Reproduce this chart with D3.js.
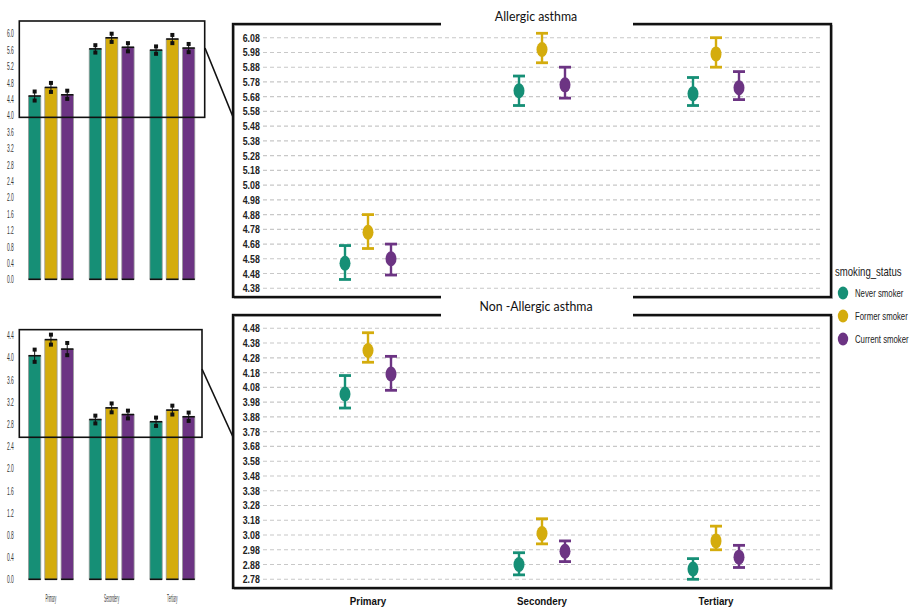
<!DOCTYPE html>
<html lang="en">
<head>
<meta charset="UTF-8">
<title>Asthma by education and smoking status</title>
<script src="https://d3js.org/d3.v7.min.js"></script>
<style>
  body { margin: 0; background: #fff; }
  svg { display: block; }
</style>
</head>
<body>
<script>
const width = 912, height = 611;

const levels = ['Primary', 'Secondery', 'Tertiary'];
const groups = ['Never smoker', 'Former smoker', 'Current smoker'];
const colors = ['#168f76', '#d4ac0d', '#6c3483'];

// overview bars (left), one row per education level, one column per smoking group
const allergicBars = [[4.47, 4.68, 4.50], [5.62, 5.89, 5.66], [5.59, 5.86, 5.64]];
const allergicBarErr = [[0.11, 0.11, 0.10], [0.09, 0.10, 0.10], [0.09, 0.10, 0.10]];
const nonAllergicBars = [[4.03, 4.32, 4.15], [2.88, 3.09, 2.97], [2.84, 3.05, 2.93]];
const nonAllergicBarErr = [[0.11, 0.09, 0.11], [0.07, 0.08, 0.07], [0.075, 0.08, 0.075]];

// zoomed panels (right): mean, lower, upper
const allergicMean = [[4.55, 4.76, 4.58], [5.72, 6.00, 5.76], [5.70, 5.97, 5.74]];
const allergicLow = [[4.44, 4.65, 4.47], [5.62, 5.91, 5.67], [5.62, 5.88, 5.66]];
const allergicHigh = [[4.67, 4.88, 4.68], [5.82, 6.11, 5.88], [5.81, 6.08, 5.85]];
const nonAllergicMean = [[4.035, 4.33, 4.17], [2.88, 3.09, 2.97], [2.85, 3.04, 2.93]];
const nonAllergicLow = [[3.94, 4.25, 4.06], [2.81, 3.02, 2.90], [2.78, 2.98, 2.86]];
const nonAllergicHigh = [[4.16, 4.45, 4.29], [2.96, 3.19, 3.04], [2.92, 3.14, 3.01]];

// tick labels
const allergicTicks = [4.38, 4.48, 4.58, 4.68, 4.78, 4.88, 4.98, 5.08, 5.18, 5.28, 5.38, 5.48, 5.58, 5.68, 5.78, 5.88, 5.98, 6.08];
const nonAllergicTicks = [2.78, 2.88, 2.98, 3.08, 3.18, 3.28, 3.38, 3.48, 3.58, 3.68, 3.78, 3.88, 3.98, 4.08, 4.18, 4.28, 4.38, 4.48];
const allergicBarTicks = [0.0, 0.4, 0.8, 1.2, 1.6, 2.0, 2.4, 2.8, 3.2, 3.6, 4.0, 4.4, 4.8, 5.2, 5.6, 6.0];
const nonAllergicBarTicks = [0.0, 0.4, 0.8, 1.2, 1.6, 2.0, 2.4, 2.8, 3.2, 3.6, 4.0, 4.4];

const FONT = "'Liberation Sans', Arial, sans-serif";

const svg = d3.select('body').append('svg')
  .attr('width', width)
  .attr('height', height)
  .style('font-family', FONT);

// ---------- left overview bar charts ----------
const xL = d3.scaleBand().domain(levels).range([20.6, 202.7]);
const xInner = d3.scaleBand().domain(groups).range([-22.45, 22.45]).paddingInner(0.245);

function barChart(vals, errs, ticks, y, box, showX) {
  const g = svg.append('g');
  const rows = [];
  levels.forEach((l, i) => groups.forEach((s, j) => {
    rows.push({ l, s, j, v: vals[i][j], e: errs[i][j] });
  }));
  const bx = d => xL(d.l) + xL.bandwidth() / 2 + xInner(d.s);
  const bw = xInner.bandwidth();

  g.selectAll('rect.bar').data(rows).join('rect')
    .attr('class', 'bar')
    .attr('x', bx)
    .attr('y', d => y(d.v))
    .attr('width', bw)
    .attr('height', d => y(0) - y(d.v))
    .attr('fill', d => colors[d.j])
    .attr('stroke', '#9a9a9a')
    .attr('stroke-width', 0.8);

  g.selectAll('line.top').data(rows).join('line')
    .attr('x1', bx).attr('x2', d => bx(d) + bw)
    .attr('y1', d => y(d.v)).attr('y2', d => y(d.v))
    .attr('stroke', '#111').attr('stroke-width', 1.6);
  g.selectAll('line.base').data(rows).join('line')
    .attr('x1', bx).attr('x2', d => bx(d) + bw)
    .attr('y1', y(0)).attr('y2', y(0))
    .attr('stroke', '#111').attr('stroke-width', 1.6);

  // error whiskers with square ends
  g.selectAll('line.err').data(rows).join('line')
    .attr('x1', d => bx(d) + bw / 2).attr('x2', d => bx(d) + bw / 2)
    .attr('y1', d => y(d.v + d.e)).attr('y2', d => y(d.v - d.e))
    .attr('stroke', '#111').attr('stroke-width', 1);
  g.selectAll('rect.sqHi').data(rows).join('rect')
    .attr('x', d => bx(d) + bw / 2 - 2).attr('y', d => y(d.v + d.e) - 2)
    .attr('width', 4).attr('height', 4).attr('fill', '#111');
  g.selectAll('rect.sqLo').data(rows).join('rect')
    .attr('x', d => bx(d) + bw / 2 - 2).attr('y', d => y(d.v - d.e) - 2)
    .attr('width', 4).attr('height', 4).attr('fill', '#111');

  const yAxis = g.append('g')
    .attr('transform', 'translate(17,0)')
    .call(d3.axisLeft(y).tickValues(ticks).tickSize(0).tickPadding(7).tickFormat(d3.format('.1f')));
  yAxis.select('.domain').remove();
  yAxis.selectAll('text')
    .attr('transform', 'scale(0.45,1)')
    .attr('font-size', 11)
    .attr('font-family', FONT)
    .attr('fill', '#333');

  if (showX) {
    const xAxis = g.append('g')
      .attr('transform', `translate(0,${y(0) + 12})`)
      .call(d3.axisBottom(xL).tickSize(0).tickPadding(4));
    xAxis.select('.domain').remove();
    xAxis.selectAll('text')
      .attr('transform', 'scale(0.32,1)')
      .attr('font-size', 10)
      .attr('font-family', FONT)
      .attr('fill', '#333');
  }

  // zoom box
  g.append('rect')
    .attr('x', 19.3).attr('y', y(box[1]))
    .attr('width', box[2] - 19.3).attr('height', y(box[0]) - y(box[1]))
    .attr('fill', 'none').attr('stroke', '#111').attr('stroke-width', 1.6);
  return g;
}

const yBarA = d3.scaleLinear().domain([0, 6]).range([279.3, 33.3]);
const yBarN = d3.scaleLinear().domain([0, 4.4]).range([579.3, 335.2]);
barChart(allergicBars, allergicBarErr, allergicBarTicks, yBarA, [3.95, 6.3, 204.7], false);
barChart(nonAllergicBars, nonAllergicBarErr, nonAllergicBarTicks, yBarN, [2.56, 4.5, 202], true);

// connector lines from zoom boxes to panels
svg.append('line').attr('x1', 205).attr('y1', 48).attr('x2', 233).attr('y2', 117)
  .attr('stroke', '#111').attr('stroke-width', 1.6);
svg.append('line').attr('x1', 202).attr('y1', 369).attr('x2', 233).attr('y2', 437)
  .attr('stroke', '#111').attr('stroke-width', 1.6);

// ---------- right zoomed panels ----------
const xR = d3.scaleBand().domain(levels).range([281, 803]);
const offset = d3.scalePoint().domain(groups).range([-23, 23]);
const px0 = 233, px1 = 831;

function panel(mean, low, high, ticks, y, top, bottom, showX) {
  const g = svg.append('g');

  g.selectAll('line.grid').data(ticks).join('line')
    .attr('x1', 263).attr('x2', 821)
    .attr('y1', d => y(d)).attr('y2', d => y(d))
    .attr('stroke', '#c8c8c8').attr('stroke-width', 1.1)
    .attr('stroke-dasharray', '4,3');

  const yAxis = g.append('g')
    .attr('transform', 'translate(263,0)')
    .call(d3.axisLeft(y).tickValues(ticks).tickSize(0).tickPadding(4).tickFormat(d3.format('.2f')));
  yAxis.select('.domain').remove();
  yAxis.selectAll('text')
    .attr('transform', 'scale(0.8,1)')
    .attr('font-size', 11)
    .attr('font-weight', 'bold')
    .attr('font-family', FONT)
    .attr('fill', '#222');

  const rows = [];
  levels.forEach((l, i) => groups.forEach((s, j) => {
    rows.push({ l, s, j, m: mean[i][j], lo: low[i][j], hi: high[i][j] });
  }));
  const cx = d => xR(d.l) + xR.bandwidth() / 2 + offset(d.s);

  g.selectAll('line.stem').data(rows).join('line')
    .attr('x1', cx).attr('x2', cx)
    .attr('y1', d => y(d.hi)).attr('y2', d => y(d.lo))
    .attr('stroke', d => colors[d.j]).attr('stroke-width', 2.4);
  g.selectAll('line.capHi').data(rows).join('line')
    .attr('x1', d => cx(d) - 6).attr('x2', d => cx(d) + 6)
    .attr('y1', d => y(d.hi)).attr('y2', d => y(d.hi))
    .attr('stroke', d => colors[d.j]).attr('stroke-width', 2.8);
  g.selectAll('line.capLo').data(rows).join('line')
    .attr('x1', d => cx(d) - 6).attr('x2', d => cx(d) + 6)
    .attr('y1', d => y(d.lo)).attr('y2', d => y(d.lo))
    .attr('stroke', d => colors[d.j]).attr('stroke-width', 2.8);
  g.selectAll('ellipse').data(rows).join('ellipse')
    .attr('cx', cx).attr('cy', d => y(d.m))
    .attr('rx', 5.5).attr('ry', 7.5)
    .attr('fill', d => colors[d.j]);

  // frame
  g.append('rect')
    .attr('x', px0 + 1.5).attr('y', top + 1.5)
    .attr('width', px1 - px0).attr('height', bottom - top)
    .attr('fill', 'none').attr('stroke', '#bbb').attr('stroke-width', 1);
  g.append('rect')
    .attr('x', px0).attr('y', top)
    .attr('width', px1 - px0).attr('height', bottom - top)
    .attr('fill', 'none').attr('stroke', '#111').attr('stroke-width', 2.4);

  if (showX) {
    const xAxis = g.append('g')
      .attr('transform', `translate(0,${bottom})`)
      .call(d3.axisBottom(xR).tickSize(0).tickPadding(9));
    xAxis.select('.domain').remove();
    xAxis.selectAll('text')
      .attr('transform', 'scale(0.85,1)')
      .attr('font-size', 11.5)
      .attr('font-weight', 'bold')
      .attr('font-family', FONT)
      .attr('fill', '#111');
  }
  return g;
}

const yA = d3.scaleLinear().domain([4.38, 6.08]).range([288.3, 37.7]);
const yN = d3.scaleLinear().domain([2.78, 4.48]).range([579.3, 328.3]);
panel(allergicMean, allergicLow, allergicHigh, allergicTicks, yA, 24, 297, false);
panel(nonAllergicMean, nonAllergicLow, nonAllergicHigh, nonAllergicTicks, yN, 315, 588, true);

// title labels sit in white gaps of the frames
svg.append('rect').attr('x', 441).attr('y', 8).attr('width', 192).attr('height', 22).attr('fill', '#fff');
svg.append('rect').attr('x', 441).attr('y', 293).attr('width', 192).attr('height', 27).attr('fill', '#fff');
svg.append('text')
  .attr('transform', 'translate(536,21) scale(0.88,1)')
  .attr('text-anchor', 'middle')
  .attr('font-family', 'Lato, sans-serif').attr('font-size', 14)
  .attr('fill', '#111').text('Allergic asthma');
svg.append('text')
  .attr('transform', 'translate(536,311) scale(0.88,1)')
  .attr('text-anchor', 'middle')
  .attr('font-family', 'Lato, sans-serif').attr('font-size', 14)
  .attr('fill', '#111').text('Non -Allergic asthma');

// ---------- legend ----------
const legend = svg.append('g').attr('transform', 'translate(835,0)');
legend.append('text')
  .attr('transform', 'translate(0,276) scale(0.8,1)')
  .attr('font-size', 12).attr('font-family', FONT).attr('fill', '#222')
  .text('smoking_status');
const keyY = d3.scalePoint().domain(groups).range([293, 339]);
const keys = legend.selectAll('g.key').data(groups).join('g')
  .attr('transform', d => `translate(0,${keyY(d)})`);
keys.append('ellipse')
  .attr('cx', 8).attr('cy', 0).attr('rx', 5.2).attr('ry', 6.5)
  .attr('fill', (d, i) => colors[i]);
keys.append('text')
  .attr('transform', 'translate(20,3.5) scale(0.78,1)')
  .attr('font-size', 10).attr('font-family', FONT).attr('fill', '#222')
  .text(d => d);
</script>
</body>
</html>
